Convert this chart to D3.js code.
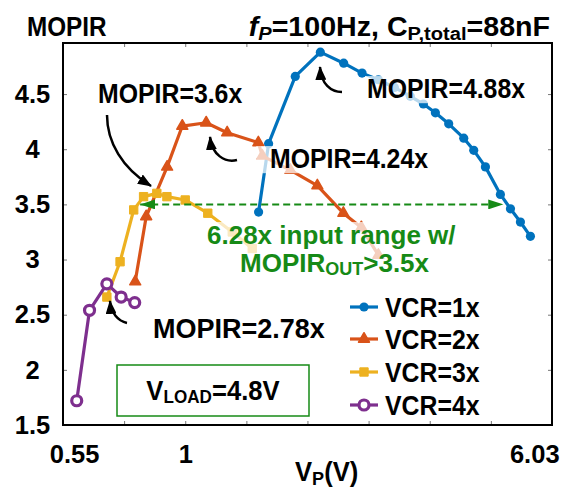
<!DOCTYPE html>
<html><head><meta charset="utf-8">
<script src="https://cdn.jsdelivr.net/npm/d3@7/dist/d3.min.js"></script>
<style>body{margin:0;background:#fff}svg{display:block}</style>
</head><body><svg id="c" width="569" height="491"></svg>
<script>
// ---------------- data ----------------
const seriesNames = ["VCR=1x", "VCR=2x", "VCR=3x", "VCR=4x"];
const vcr1X = [1.459, 1.536, 1.762, 2.005, 2.261, 2.485, 2.703, 2.935, 3.186, 3.408, 3.625, 3.882, 4.195, 4.416, 4.69, 5.066, 5.335, 5.616, 5.912];
const vcr1Y = [3.43, 4.05, 4.66, 4.88, 4.78, 4.69, 4.63, 4.56, 4.48, 4.41, 4.33, 4.23, 4.10, 3.99, 3.84, 3.59, 3.46, 3.34, 3.21];
const vcr2X = [0.773, 0.818, 0.911, 0.985, 1.114, 1.241, 1.457, 1.487, 1.718, 1.974, 2.257, 2.476, 2.703];
const vcr2Y = [2.80, 3.39, 3.84, 4.21, 4.24, 4.15, 4.06, 3.94, 3.81, 3.67, 3.42, 3.29, 3.04];
const vcr3X = [0.668, 0.715, 0.767, 0.807, 0.864, 0.910, 1.0, 1.123, 1.274, 1.412];
const vcr3Y = [2.66, 2.98, 3.45, 3.57, 3.60, 3.57, 3.54, 3.42, 3.25, 3.10];
const vcr4X = [0.572, 0.611, 0.668, 0.719, 0.771];
const vcr4Y = [1.72, 2.54, 2.78, 2.66, 2.61];
const xTickMarks = [0.533, 0.730, 1.0, 1.370, 1.876, 2.570, 3.521, 4.823, 6.607];
const xTickLabels = [0.55, 1, 6.03];
const yTickValues = [1.5, 2, 2.5, 3, 3.5, 4, 4.5];
const rangeArrowX = [0.793, 5.14];
const rangeArrowY = 3.5;

// ---------------- setup ----------------
const FONT = "'Liberation Sans', Arial, Helvetica, sans-serif";
const colors = ["#0072BD", "#D95319", "#EDB120", "#7E2F8E"];
const GREEN = "#168a16";
const svg = d3.select("#c");
const L = 63, R = 552, T = 43, B = 425;
const x = d3.scaleLog().domain([0.533, 6.607]).range([L, R]);
const y = d3.scaleLinear().domain([1.5, 4.963]).range([B, T]);

const series = [
  {name: seriesNames[0], xs: vcr1X, ys: vcr1Y, sym: "circle"},
  {name: seriesNames[1], xs: vcr2X, ys: vcr2Y, sym: "triangle"},
  {name: seriesNames[2], xs: vcr3X, ys: vcr3Y, sym: "square"},
  {name: seriesNames[3], xs: vcr4X, ys: vcr4Y, sym: "open"}
];

// tick marks (inward)
function tickStyle(g) {
  g.select(".domain").remove();
  g.selectAll(".tick line").attr("stroke", "#777").attr("stroke-width", 1);
}
svg.append("g").attr("transform", `translate(0,${B})`).call(d3.axisBottom(x).tickValues(xTickMarks).tickSize(-4).tickFormat("")).call(tickStyle);
svg.append("g").attr("transform", `translate(0,${T})`).call(d3.axisTop(x).tickValues(xTickMarks).tickSize(-4).tickFormat("")).call(tickStyle);
svg.append("g").attr("transform", `translate(${L},0)`).call(d3.axisLeft(y).tickValues(yTickValues).tickSize(-4).tickFormat("")).call(tickStyle);
svg.append("g").attr("transform", `translate(${R},0)`).call(d3.axisRight(y).tickValues(yTickValues).tickSize(-4).tickFormat("")).call(tickStyle);

// tick labels
const yl = svg.append("g").attr("transform", `translate(${L},0)`)
  .call(d3.axisLeft(y).tickValues(yTickValues).tickSize(0).tickFormat(d => d));
yl.select(".domain").remove();
yl.selectAll("text").attr("text-anchor", "middle").attr("x", -30.5)
  .attr("font-size", 25.5).attr("font-weight", "bold").attr("font-family", FONT).attr("fill", "#000");
const xl = svg.append("g").attr("transform", `translate(0,${B})`)
  .call(d3.axisBottom(x).tickValues(xTickLabels).tickSize(0).tickPadding(20).tickFormat(d => d));
xl.select(".domain").remove();
xl.selectAll("text").attr("font-size", 25.5).attr("font-weight", "bold").attr("font-family", FONT).attr("fill", "#000")
  .attr("dx", (d, i) => i === 0 ? 5 : 0);

// frame
svg.append("rect").attr("x", L).attr("y", T).attr("width", R - L).attr("height", B - T)
  .attr("fill", "none").attr("stroke", "#000").attr("stroke-width", 2);

// markers for arrows
const defs = svg.append("defs");
defs.append("marker").attr("id", "gh").attr("viewBox", "0 0 15 10").attr("refX", 15).attr("refY", 5)
  .attr("markerWidth", 15).attr("markerHeight", 10).attr("markerUnits", "userSpaceOnUse")
  .attr("orient", "auto-start-reverse")
  .append("path").attr("d", "M0,0 L15,5 L0,10 Z").attr("fill", GREEN);
defs.append("marker").attr("id", "bh").attr("viewBox", "0 0 14 11").attr("refX", 13).attr("refY", 5.5)
  .attr("markerWidth", 14).attr("markerHeight", 11).attr("markerUnits", "userSpaceOnUse")
  .attr("orient", "auto")
  .append("path").attr("d", "M0,0 L14,5.5 L0,11 Z").attr("fill", "#000");

// series
const line = d3.line().x(d => x(d[0])).y(d => y(d[1]));
series.forEach((s, i) => {
  const pts = s.xs.map((v, k) => [v, s.ys[k]]);
  const g = svg.append("g");
  g.append("path").attr("d", line(pts)).attr("fill", "none").attr("stroke", colors[i]).attr("stroke-width", 3.2).attr("stroke-linejoin", "round");
  drawMarkers(g, pts.map(p => [x(p[0]), y(p[1])]), s.sym, colors[i]);
});

function drawMarkers(g, pxs, sym, col) {
  pxs.forEach(([px, py]) => {
    if (sym === "circle") g.append("circle").attr("cx", px).attr("cy", py).attr("r", 4.6).attr("fill", col);
    else if (sym === "open") g.append("circle").attr("cx", px).attr("cy", py).attr("r", 5).attr("fill", "#fff").attr("stroke", col).attr("stroke-width", 3.2);
    else if (sym === "triangle") g.append("path").attr("d", d3.symbol(d3.symbolTriangle, 52)()).attr("transform", `translate(${px},${py})`).attr("fill", col).attr("stroke", col).attr("stroke-width", 1.5).attr("stroke-linejoin", "round");
    else if (sym === "square") g.append("path").attr("d", d3.symbol(d3.symbolSquare, 70)()).attr("transform", `translate(${px},${py})`).attr("fill", col).attr("stroke", col).attr("stroke-width", 1);
  });
}

// green range arrow
svg.append("line").attr("x1", x(rangeArrowX[0])).attr("x2", x(rangeArrowX[1]))
  .attr("y1", y(rangeArrowY)).attr("y2", y(rangeArrowY))
  .attr("stroke", GREEN).attr("stroke-width", 2).attr("stroke-dasharray", "7,4")
  .attr("marker-start", "url(#gh)").attr("marker-end", "url(#gh)");

// rich text helper
function richText(x0, y0, parts, o = {}) {
  const size = o.size || 27, sx = o.sx || 0.92;
  const g = svg.append("g").attr("transform", `translate(${x0},${y0}) scale(${sx},1)`);
  const t = g.append("text").attr("font-size", size).attr("font-weight", "bold")
    .attr("font-family", FONT).attr("fill", o.fill || "#000").attr("text-anchor", o.anchor || "start");
  let cur = 0;
  parts.forEach(p => {
    const off = p.sub ? (p.off != null ? p.off : 4) : 0;
    const ts = t.append("tspan").text(p.t).attr("dy", off - cur);
    cur = off;
    if (p.sub) ts.attr("font-size", p.size || size * 0.7);
    if (p.it) ts.attr("font-style", "italic");
  });
  if (o.bg) {
    const b = t.node().getBBox();
    const pl = o.padL || 2;
    g.insert("rect", "text").attr("x", b.x - pl).attr("y", b.y + 2).attr("width", b.width + pl + 2).attr("height", b.height - 2)
      .attr("fill", "#fff").attr("fill-opacity", 0.72);
  }
  return g;
}

// titles
richText(27, 36, [{t: "MOPIR"}], {size: 27, sx: 0.9});
richText(550, 36, [{t: "f", it: true}, {t: "P", sub: true, it: true, size: 19}, {t: "=100Hz, C"}, {t: "P,total", sub: true, size: 19}, {t: "=88nF"}], {size: 27, sx: 1.06, anchor: "end"});

// axis title
richText(295, 481, [{t: "V"}, {t: "P", sub: true, size: 19}, {t: "(V)"}], {size: 27, sx: 0.95});

// annotations
richText(367, 98, [{t: "MOPIR=4.88x"}], {bg: true});
richText(270, 168, [{t: "MOPIR=4.24x"}], {bg: true, padL: 15});
richText(98, 103, [{t: "MOPIR=3.6x"}], {bg: true});
richText(153, 338, [{t: "MOPIR=2.78x"}], {bg: true, sx: 1.0});

// green text (with translucent background)
svg.append("rect").attr("x", 204).attr("y", 222).attr("width", 252).attr("height", 58).attr("fill", "#fff").attr("fill-opacity", 0.72);
richText(207, 244, [{t: "6.28x input range w/"}], {size: 26, sx: 1, fill: GREEN});
richText(240, 272, [{t: "MOPIR"}, {t: "OUT", sub: true, size: 18, off: 3}, {t: ">3.5x"}], {size: 26, sx: 1, fill: GREEN});

// curved black arrows
const arrows = [
  "M107,115 C107,142 122,168 151,186",
  "M237,160 C225,163 212,155 210,137",
  "M342,92 C331,92 321,84 320,67",
  "M127,323 C118,321 111,313 110,301"
];
arrows.forEach(d => svg.append("path").attr("d", d).attr("fill", "none").attr("stroke", "#000").attr("stroke-width", 2.5).attr("marker-end", "url(#bh)"));

// legend
const legY = [307, 339, 372, 405];
series.forEach((s, i) => {
  const g = svg.append("g");
  g.append("line").attr("x1", 350).attr("x2", 378).attr("y1", legY[i]).attr("y2", legY[i]).attr("stroke", colors[i]).attr("stroke-width", 3.2);
  drawMarkers(g, [[364, legY[i]]], s.sym, colors[i]);
  richText(385, legY[i] + 10, [{t: s.name}]);
});

// V_LOAD box
svg.append("rect").attr("x", 117).attr("y", 365).attr("width", 192).attr("height", 51)
  .attr("fill", "#fff").attr("stroke", GREEN).attr("stroke-width", 1.5);
richText(213, 400, [{t: "V"}, {t: "LOAD", sub: true, size: 18, off: 3}, {t: "=4.8V"}], {anchor: "middle", sx: 0.95});
</script></body></html>
